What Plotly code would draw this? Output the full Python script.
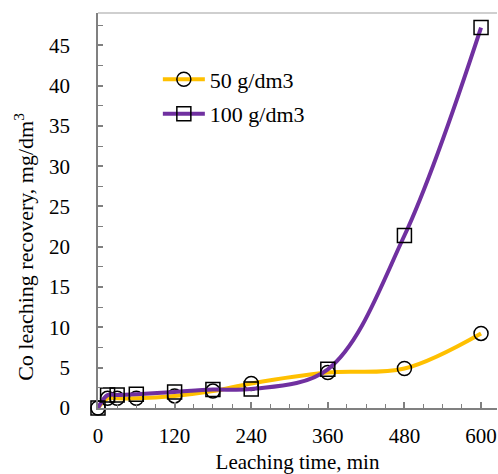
import plotly.graph_objects as go

time_min = [0, 15, 30, 60, 120, 180, 240, 360, 480, 600]
co_50 = [0, 1.2, 1.2, 1.2, 1.5, 2.1, 3.05, 4.4, 4.9, 9.25]
co_100 = [0, 1.6, 1.6, 1.7, 2.0, 2.3, 2.35, 4.8, 21.4, 47.2]
x_ticks = [0, 120, 240, 360, 480, 600]
y_ticks = [0, 5, 10, 15, 20, 25, 30, 35, 40, 45]

FONT = "Liberation Serif"
AX = "#808080"
FS = 21

fig = go.Figure()
fig.add_trace(go.Scatter(
    x=time_min, y=co_50, name="50 g/dm3", mode="lines+markers", legendgroup="a",
    line=dict(color="#FFC000", width=4, shape="spline", smoothing=1.0),
    marker=dict(symbol="circle-open", size=14, color="black", line=dict(width=1.5)),
    cliponaxis=False,
))
fig.add_trace(go.Scatter(
    x=time_min, y=co_100, name="100 g/dm3", mode="lines+markers", legendgroup="b",
    line=dict(color="#7030A0", width=4, shape="spline", smoothing=1.0),
    marker=dict(symbol="square-open", size=14, color="black", line=dict(width=1.5)),
    cliponaxis=False,
))

fig.update_layout(
    width=498, height=474,
    margin=dict(l=98, r=1, t=13, b=66),
    paper_bgcolor="white", plot_bgcolor="white",
    font=dict(family=FONT, size=FS, color="black"),
    showlegend=True,
    legend=dict(x=0.15, y=0.885, xanchor="left", yanchor="top", itemwidth=42,
                bgcolor="rgba(0,0,0,0)", font=dict(size=22), tracegroupgap=3),
    xaxis=dict(
        range=[0, 625], tickvals=x_ticks, ticktext=[str(v) for v in x_ticks],
        showgrid=False, zeroline=False, showline=True, linecolor=AX, linewidth=1.5,
        ticks="inside", ticklen=6, tickcolor=AX, tickwidth=1.5,
        minor=dict(dtick=30, tick0=0, ticks="inside", ticklen=4, tickcolor=AX, tickwidth=1),
        ticklabelstandoff=8, automargin=False,
        title=dict(text="Leaching time, min", standoff=14, font=dict(size=FS)),
        tickfont=dict(size=FS),
    ),
    yaxis=dict(
        range=[0, 49], tickvals=y_ticks, ticktext=[str(v) for v in y_ticks],
        showgrid=False, zeroline=False, showline=True, linecolor=AX, linewidth=1.5,
        ticks="inside", ticklen=5, tickcolor=AX, tickwidth=1.5,
        minor=dict(dtick=2.5, tick0=0, ticks="inside", ticklen=5, tickcolor=AX, tickwidth=1),
        ticklabelstandoff=22, automargin=False,
        tickfont=dict(size=FS),
    ),
)
fig.add_annotation(
    text="Co leaching recovery, mg/dm<sup>3</sup>", textangle=-90,
    xref="paper", yref="paper", x=0, y=0.408, xanchor="center", yanchor="middle",
    xshift=-74, showarrow=False, font=dict(size=22),
)
fig.add_shape(type="line", xref="paper", yref="paper", x0=0, x1=1, y0=1, y1=1,
              line=dict(color="#BFBFBF", width=1.5))

fig.write_html("out.html", config={"displayModeBar": False},
               post_script="document.body.style.margin='0px';")
